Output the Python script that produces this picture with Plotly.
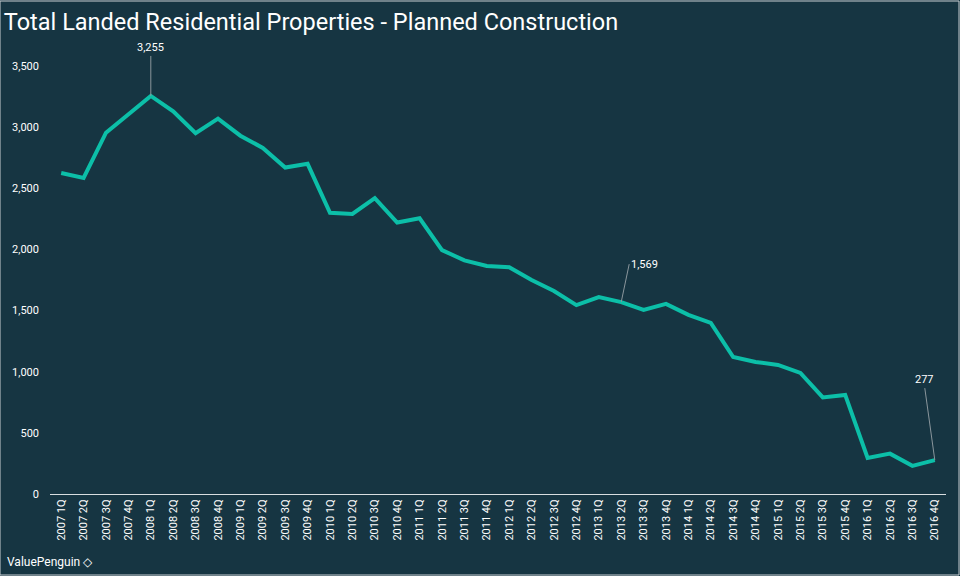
import plotly.graph_objects as go

# quarterly planned construction of landed residential properties
years = [str(y) for y in range(2007, 2017)]
quarters = ["1Q", "2Q", "3Q", "4Q"]
periods = [y + " " + q for y in years for q in quarters]

planned = [2625, 2585, 2955, 3105, 3255, 3130, 2950, 3070, 2930, 2830,
           2670, 2700, 2300, 2290, 2420, 2220, 2255, 1995, 1910, 1865,
           1855, 1750, 1660, 1545, 1610, 1569, 1505, 1555, 1465, 1400,
           1120, 1080, 1055, 990, 790, 810, 295, 330, 230, 277]

# labelled points: (index, text offset x, text offset y, anchors)
callouts = [(4, 0, -40, "center", "bottom"),
            (25, 8, -38, "left", "middle"),
            (39, -10, -72, "center", "bottom")]

bg = "#163542"
teal = "#0cbfa8"

fig = go.Figure()
fig.add_trace(go.Scatter(x=periods, y=planned, mode="lines",
                         line=dict(color=teal, width=4), hoverinfo="x+y"))

for i, dx, dy, xa, ya in callouts:
    fig.add_annotation(x=periods[i], y=planned[i], text=f"{planned[i]:,}",
                       showarrow=True, arrowhead=0, arrowwidth=1, arrowcolor="#8a969c",
                       ax=dx, ay=dy, xanchor=xa, yanchor=ya,
                       font=dict(color="white", size=11, family="Roboto"))

fig.add_annotation(text="ValuePenguin ◇", xref="paper", yref="paper", x=-0.05, y=-0.16,
                   xanchor="left", yanchor="middle", showarrow=False,
                   font=dict(color="white", size=12, family="Roboto"))

# thin light frame round the whole picture
fig.add_shape(type="rect", xref="paper", yref="paper",
              x0=-50 / 896, x1=1 + 13 / 896, y0=-81 / 428, y1=1 + 65 / 428,
              line=dict(color="#c9cfd2", width=1))

fig.update_layout(
    width=960, height=576,
    paper_bgcolor=bg, plot_bgcolor=bg,
    margin=dict(l=50, r=14, t=66, b=82),
    showlegend=False,
    separators=".,",
    title=dict(text="Total Landed Residential Properties - Planned Construction",
               x=0.004, xanchor="left", y=0.962, yanchor="middle",
               font=dict(family="Roboto", size=23.5, color="white")),
    font=dict(family="Roboto", color="white", size=11),
)
fig.update_xaxes(type="category", range=[-0.5, 39.5], tickangle=-90, showgrid=False,
                 showline=True, linecolor="#d8dde0", linewidth=1, ticks="",
                 tickfont=dict(size=11, color="white"))
fig.update_yaxes(range=[0, 3500], dtick=500, tickformat=",", showgrid=False,
                 zeroline=False, showline=False, ticks="", ticklabelstandoff=10,
                 tickfont=dict(size=11, color="white"))

fig.write_html("out.html", config={"displayModeBar": False},
               post_script="document.body.style.margin='0';")
